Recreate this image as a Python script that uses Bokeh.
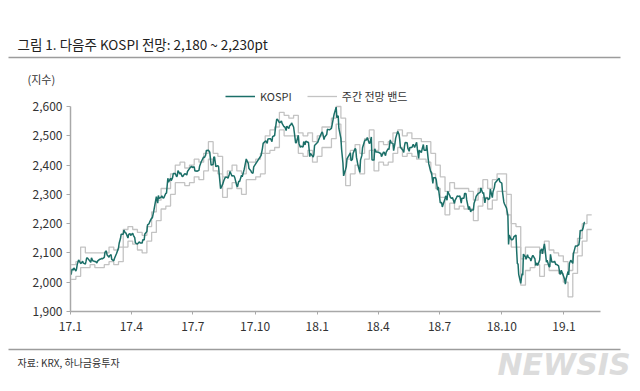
import pandas as pd
from bokeh.plotting import figure
from bokeh.models import (Range1d, FixedTicker, NumeralTickFormatter, Legend,
                          LegendItem, Label, ColumnDataSource)
from bokeh.embed import file_html
from bokeh.resources import INLINE

FONT = "Noto Sans CJK KR"

# ---------------- data ----------------
kospi_dates = [
    "2017-01-02", "2017-01-04", "2017-01-06", "2017-01-10", "2017-01-13", "2017-01-17", "2017-01-20",
    "2017-01-24", "2017-01-26", "2017-01-31", "2017-02-03", "2017-02-07", "2017-02-10", "2017-02-14",
    "2017-02-17", "2017-02-21", "2017-02-24", "2017-02-28", "2017-03-03", "2017-03-07", "2017-03-10",
    "2017-03-14", "2017-03-17", "2017-03-21", "2017-03-24", "2017-03-28", "2017-03-31", "2017-04-04",
    "2017-04-07", "2017-04-11", "2017-04-14", "2017-04-18", "2017-04-21", "2017-04-25", "2017-04-28",
    "2017-05-02", "2017-05-04", "2017-05-10", "2017-05-12", "2017-05-16", "2017-05-19", "2017-05-23",
    "2017-05-26", "2017-05-30", "2017-06-02", "2017-06-07", "2017-06-09", "2017-06-13", "2017-06-16",
    "2017-06-20", "2017-06-23", "2017-06-27", "2017-06-30", "2017-07-04", "2017-07-07", "2017-07-11",
    "2017-07-14", "2017-07-18", "2017-07-21", "2017-07-24", "2017-07-28", "2017-08-01", "2017-08-04",
    "2017-08-08", "2017-08-11", "2017-08-14", "2017-08-18", "2017-08-22", "2017-08-25", "2017-08-29",
    "2017-09-01", "2017-09-05", "2017-09-08", "2017-09-12", "2017-09-15", "2017-09-19", "2017-09-22",
    "2017-09-26", "2017-09-29", "2017-10-10", "2017-10-13", "2017-10-17", "2017-10-20", "2017-10-24",
    "2017-10-27", "2017-10-31", "2017-11-03", "2017-11-07", "2017-11-10", "2017-11-14", "2017-11-17",
    "2017-11-21", "2017-11-24", "2017-11-28", "2017-12-01", "2017-12-05", "2017-12-08", "2017-12-12",
    "2017-12-15", "2017-12-19", "2017-12-22", "2017-12-26", "2017-12-28",
    "2018-01-02", "2018-01-05", "2018-01-09", "2018-01-12", "2018-01-16", "2018-01-19", "2018-01-23",
    "2018-01-26", "2018-01-29", "2018-01-31", "2018-02-02", "2018-02-06", "2018-02-09", "2018-02-12",
    "2018-02-14", "2018-02-20", "2018-02-23", "2018-02-27", "2018-03-02", "2018-03-05", "2018-03-09",
    "2018-03-13", "2018-03-16", "2018-03-20", "2018-03-23", "2018-03-27", "2018-03-30", "2018-04-03",
    "2018-04-06", "2018-04-10", "2018-04-13", "2018-04-17", "2018-04-20", "2018-04-24", "2018-04-27",
    "2018-05-02", "2018-05-04", "2018-05-09", "2018-05-11", "2018-05-15", "2018-05-18", "2018-05-23",
    "2018-05-25", "2018-05-29", "2018-06-01", "2018-06-05", "2018-06-08", "2018-06-12", "2018-06-15",
    "2018-06-19", "2018-06-22", "2018-06-26", "2018-06-29", "2018-07-03", "2018-07-05", "2018-07-10",
    "2018-07-13", "2018-07-17", "2018-07-20", "2018-07-24", "2018-07-27", "2018-07-31", "2018-08-03",
    "2018-08-07", "2018-08-10", "2018-08-14", "2018-08-16", "2018-08-21", "2018-08-24", "2018-08-28",
    "2018-08-31", "2018-09-04", "2018-09-07", "2018-09-11", "2018-09-14", "2018-09-18", "2018-09-21",
    "2018-09-27", "2018-09-28", "2018-10-02", "2018-10-05", "2018-10-10", "2018-10-11", "2018-10-12",
    "2018-10-16", "2018-10-19", "2018-10-23", "2018-10-26", "2018-10-29", "2018-10-31", "2018-11-02",
    "2018-11-06", "2018-11-09", "2018-11-13", "2018-11-16", "2018-11-20", "2018-11-23", "2018-11-27",
    "2018-11-30", "2018-12-03", "2018-12-07", "2018-12-11", "2018-12-14", "2018-12-18", "2018-12-21",
    "2018-12-26", "2018-12-28",
    "2019-01-02", "2019-01-03", "2019-01-04", "2019-01-08", "2019-01-11", "2019-01-15", "2019-01-18",
    "2019-01-22", "2019-01-25", "2019-01-29", "2019-02-01",
]
kospi_values = [
    2026, 2045, 2049, 2046, 2076, 2065, 2065,
    2072, 2083, 2068, 2073, 2071, 2072, 2078,
    2080, 2102, 2094, 2091, 2078, 2081, 2097,
    2133, 2164, 2178, 2168, 2163, 2160, 2160,
    2134, 2133, 2134, 2145, 2165, 2196, 2205,
    2219, 2241, 2270, 2286, 2295, 2288, 2304,
    2342, 2347, 2371, 2360, 2381, 2374, 2361,
    2370, 2378, 2391, 2392, 2380, 2379, 2396,
    2414, 2425, 2450, 2451, 2400, 2427, 2395,
    2395, 2319, 2334, 2358, 2355, 2378, 2364,
    2357, 2326, 2343, 2360, 2386, 2415, 2388,
    2374, 2394, 2433, 2474, 2483, 2489, 2490,
    2497, 2523, 2557, 2545, 2542, 2531, 2533,
    2534, 2544, 2513, 2476, 2474, 2464, 2480,
    2482, 2478, 2440, 2427, 2467,
    2479, 2497, 2510, 2496, 2522, 2520, 2537,
    2574, 2598, 2566, 2525, 2454, 2363, 2386,
    2421, 2415, 2440, 2454, 2402, 2375, 2459,
    2486, 2494, 2475, 2417, 2456, 2445, 2441,
    2429, 2444, 2444, 2453, 2476, 2449, 2492,
    2505, 2461, 2443, 2477, 2458, 2460, 2471,
    2460, 2457, 2451, 2453, 2451, 2468, 2404,
    2376, 2357, 2350, 2326, 2272, 2257, 2295,
    2310, 2289, 2289, 2280, 2294, 2295, 2287,
    2303, 2282, 2259, 2240, 2270, 2293, 2304,
    2322, 2307, 2287, 2282, 2318, 2309, 2339,
    2355, 2343, 2309, 2267, 2228, 2129, 2161,
    2145, 2156, 2106, 2027, 1996, 2029, 2096,
    2078, 2086, 2072, 2092, 2057, 2057, 2107,
    2097, 2131, 2075, 2053, 2069, 2072, 2061,
    2028, 2041,
    2010, 1993, 2010, 2025, 2075, 2097, 2124,
    2127, 2177, 2183, 2204,
]

# additional in-between sessions
kospi_mid_dates = [
    "2017-01-03", "2017-01-05", "2017-01-09", "2017-01-11", "2017-01-16", "2017-01-19", "2017-01-23",
    "2017-01-25", "2017-02-01", "2017-02-06", "2017-02-09", "2017-02-13", "2017-02-16", "2017-02-20",
    "2017-02-23", "2017-02-27", "2017-03-02", "2017-03-06", "2017-03-09", "2017-03-13", "2017-03-16",
    "2017-03-20", "2017-03-23", "2017-03-27", "2017-03-30", "2017-04-03", "2017-04-06", "2017-04-10",
    "2017-04-13", "2017-04-17", "2017-04-20", "2017-04-24", "2017-04-27", "2017-05-01", "2017-05-08",
    "2017-05-11", "2017-05-15", "2017-05-18", "2017-05-22", "2017-05-25", "2017-05-29", "2017-06-01",
    "2017-06-05", "2017-06-08", "2017-06-12", "2017-06-15", "2017-06-19", "2017-06-22", "2017-06-26",
    "2017-06-29", "2017-07-03", "2017-07-06", "2017-07-10", "2017-07-13", "2017-07-17", "2017-07-20",
    "2017-07-26", "2017-07-31", "2017-08-02", "2017-08-07", "2017-08-09", "2017-08-16", "2017-08-21",
    "2017-08-24", "2017-08-28", "2017-08-31", "2017-09-04", "2017-09-07", "2017-09-11", "2017-09-14",
    "2017-09-18", "2017-09-21", "2017-09-25", "2017-09-28", "2017-10-12", "2017-10-16", "2017-10-19",
    "2017-10-23", "2017-10-26", "2017-10-30", "2017-11-02", "2017-11-06", "2017-11-09", "2017-11-13",
    "2017-11-16", "2017-11-20", "2017-11-23", "2017-11-27", "2017-11-30", "2017-12-04", "2017-12-07",
    "2017-12-11", "2017-12-14", "2017-12-18", "2017-12-21", "2017-12-27",
    "2018-01-03", "2018-01-08", "2018-01-11", "2018-01-15", "2018-01-18", "2018-01-22", "2018-01-25",
    "2018-01-30", "2018-02-01", "2018-02-05", "2018-02-08", "2018-02-13", "2018-02-19", "2018-02-22",
    "2018-02-26", "2018-02-28", "2018-03-06", "2018-03-08", "2018-03-12", "2018-03-15", "2018-03-19",
    "2018-03-22", "2018-03-26", "2018-03-29", "2018-04-02", "2018-04-05", "2018-04-09", "2018-04-12",
    "2018-04-16", "2018-04-19", "2018-04-23", "2018-04-26", "2018-04-30", "2018-05-03", "2018-05-08",
    "2018-05-10", "2018-05-14", "2018-05-17", "2018-05-21", "2018-05-24", "2018-05-28", "2018-05-31",
    "2018-06-04", "2018-06-07", "2018-06-11", "2018-06-14", "2018-06-18", "2018-06-21", "2018-06-25",
    "2018-06-28", "2018-07-02", "2018-07-04", "2018-07-09", "2018-07-12", "2018-07-16", "2018-07-19",
    "2018-07-23", "2018-07-26", "2018-07-30", "2018-08-02", "2018-08-06", "2018-08-09", "2018-08-13",
    "2018-08-17", "2018-08-20", "2018-08-23", "2018-08-27", "2018-08-30", "2018-09-03", "2018-09-06",
    "2018-09-10", "2018-09-13", "2018-09-17", "2018-09-20", "2018-10-01", "2018-10-04", "2018-10-08",
    "2018-10-15", "2018-10-18", "2018-10-22", "2018-10-24", "2018-10-25", "2018-10-30", "2018-11-01",
    "2018-11-05", "2018-11-08", "2018-11-12", "2018-11-15", "2018-11-19", "2018-11-22", "2018-11-26",
    "2018-11-29", "2018-12-04", "2018-12-06", "2018-12-10", "2018-12-12", "2018-12-17", "2018-12-20",
    "2018-12-24", "2018-12-27",
    "2019-01-07", "2019-01-09", "2019-01-14", "2019-01-16", "2019-01-21", "2019-01-23", "2019-01-24",
    "2019-01-28", "2019-01-31",
]
kospi_mid_values = [
    2043, 2041, 2038, 2061, 2064, 2072, 2062,
    2083, 2083, 2071, 2066, 2078, 2081, 2085,
    2107, 2085, 2094, 2073, 2092, 2117, 2150,
    2164, 2169, 2151, 2166, 2167, 2152, 2130,
    2138, 2134, 2144, 2173, 2199, 2219, 2292,
    2296, 2290, 2287, 2304, 2355, 2355, 2357,
    2371, 2364, 2369, 2362, 2371, 2366, 2388,
    2396, 2394, 2380, 2382, 2409, 2428, 2435,
    2444, 2402, 2428, 2398, 2368, 2348, 2358,
    2369, 2362, 2363, 2329, 2346, 2365, 2377,
    2421, 2406, 2380, 2372, 2458, 2481, 2474,
    2490, 2480, 2501, 2556, 2545, 2551, 2530,
    2518, 2525, 2538, 2530, 2476, 2502, 2461,
    2462, 2469, 2478, 2429, 2436,
    2486, 2513, 2487, 2504, 2521, 2525, 2562,
    2562, 2568, 2491, 2407, 2395, 2442, 2419,
    2456, 2427, 2417, 2433, 2482, 2486, 2474,
    2496, 2417, 2444, 2444, 2440, 2444, 2432,
    2456, 2486, 2474, 2475, 2515, 2487, 2450,
    2464, 2476, 2447, 2460, 2466, 2478, 2423,
    2443, 2470, 2451, 2423, 2376, 2337, 2357,
    2314, 2271, 2272, 2285, 2280, 2296, 2286,
    2269, 2289, 2293, 2270, 2287, 2303, 2248,
    2247, 2247, 2283, 2303, 2307, 2303, 2271,
    2288, 2286, 2289, 2323, 2338, 2274, 2253,
    2145, 2148, 2161, 2063, 2063, 2014, 2024,
    2086, 2094, 2081, 2088, 2080, 2066, 2076,
    2114, 2114, 2068, 2053, 2095, 2069, 2060,
    2056, 2028,
    2037, 2064, 2064, 2106, 2124, 2127, 2145,
    2177, 2204,
]

# weekly outlook band (week starting Monday 2017-01-02, one entry per week)
band_first_week = "2017-01-02"
band_low = [
    2010, 2020, 2050, 2050, 2060, 2050, 2050, 2060, 2070, 2060, 2070, 2120, 2140,
    2130, 2110, 2100, 2140, 2170, 2210, 2250, 2260, 2300, 2340, 2340, 2330, 2340,
    2360, 2350, 2380, 2420, 2380, 2370, 2290, 2320, 2340, 2320, 2300, 2350, 2350,
    2360, 2370, 2440, 2450, 2460, 2520, 2500, 2500, 2500, 2440, 2430, 2450, 2410,
    2430, 2460, 2460, 2490, 2540, 2480, 2330, 2370, 2400, 2370, 2420, 2450, 2380,
    2410, 2400, 2410, 2440, 2460, 2430, 2440, 2430, 2420, 2420, 2410, 2370, 2320,
    2290, 2230, 2270, 2250, 2260, 2250, 2250, 2210, 2260, 2290, 2250, 2280, 2310,
    2310, 2230, 2120, 2120, 1990, 2040, 2050, 2060, 2020, 2060, 2040, 2040, 2030,
    2000, 1950, 2030, 2090, 2140, 2180,
]
band_high = [
    2060, 2070, 2120, 2100, 2100, 2100, 2100, 2100, 2120, 2110, 2120, 2180, 2190,
    2180, 2170, 2160, 2190, 2240, 2280, 2320, 2320, 2370, 2400, 2410, 2390, 2400,
    2420, 2410, 2440, 2480, 2440, 2430, 2360, 2380, 2400, 2380, 2370, 2410, 2410,
    2420, 2440, 2500, 2520, 2530, 2580, 2570, 2560, 2570, 2510, 2500, 2510, 2480,
    2500, 2530, 2530, 2560, 2600, 2560, 2420, 2450, 2470, 2440, 2490, 2520, 2450,
    2480, 2470, 2480, 2510, 2520, 2500, 2510, 2490, 2490, 2480, 2480, 2440, 2400,
    2360, 2310, 2340, 2320, 2320, 2320, 2310, 2280, 2320, 2350, 2320, 2350, 2370,
    2370, 2300, 2200, 2190, 2080, 2120, 2120, 2120, 2100, 2140, 2110, 2100, 2090,
    2070, 2040, 2100, 2150, 2200, 2230,
]

x_start, x_end = "2017-01-01", "2019-02-24"
x_tick_dates = ["2017-01-01", "2017-04-01", "2017-07-01", "2017-10-01", "2018-01-01",
                "2018-04-01", "2018-07-01", "2018-10-01", "2019-01-01"]
x_tick_labels = ["17.1", "17.4", "17.7", "17.10", "18.1", "18.4", "18.7", "18.10", "19.1"]
y_ticks = [1900, 2000, 2100, 2200, 2300, 2400, 2500, 2600]
y_axis_min, y_axis_max = 1900, 2600

title_text = "그림 1. 다음주 KOSPI 전망: 2,180 ~ 2,230pt"
source_text = "자료: KRX, 하나금융투자"
unit_text = "(지수)"
watermark_text = "NEWSIS"

# ---------------- build ----------------
W = 640
RULE = "#9c9c9c"


def strip(height):
    f = figure(width=W, height=height, x_range=Range1d(0, W), y_range=Range1d(0, height),
               min_border=0, toolbar_location=None, output_backend="svg",
               x_axis_location=None, y_axis_location=None)
    f.grid.visible = False
    f.outline_line_color = None
    return f


# header strip (page y 0..88): title, rule, unit label
HH = 88
hd = strip(HH)
hd.segment(x0=[8], y0=[HH - 57], x1=[620], y1=[HH - 57], line_color=RULE, line_width=1.5)
hd.add_layout(Label(x=17, y=HH - 43, text=title_text, text_font=FONT, text_font_size="13.5px",
                    text_color="#222222", text_baseline="middle"))
hd.add_layout(Label(x=27, y=HH - 78, text=unit_text, text_font=FONT, text_font_size="11px",
                    text_color="#333333", text_baseline="middle"))

# main chart (page y 88..340); frame spans x 70..600, y 88..311
kdf = pd.DataFrame({"x": pd.to_datetime(kospi_dates + kospi_mid_dates),
                    "y": kospi_values + kospi_mid_values}).sort_values("x")
weeks = pd.date_range(band_first_week, periods=len(band_low), freq="7D")
bx, blo, bhi = [], [], []
for i, w in enumerate(weeks):
    e = w + pd.Timedelta(days=7)
    bx += [w, e]
    blo += [band_low[i], band_low[i]]
    bhi += [band_high[i], band_high[i]]

MAIN_TOP = HH
px_per_pt = (311 - 106) / (y_axis_max - y_axis_min)
y_top = y_axis_max + (106 - MAIN_TOP) / px_per_pt

p = figure(width=W, height=340 - MAIN_TOP, x_axis_type="datetime",
           x_range=Range1d(pd.Timestamp(x_start), pd.Timestamp(x_end)),
           y_range=Range1d(y_axis_min, y_top),
           min_border_left=70, min_border_right=40, min_border_top=0, min_border_bottom=29,
           toolbar_location=None, output_backend="svg")
p.grid.visible = False
p.outline_line_color = None

band_src = ColumnDataSource(dict(x=bx, lo=blo, hi=bhi))
r_lo = p.line("x", "lo", source=band_src, line_color="#c3c3c3", line_width=1.3)
r_hi = p.line("x", "hi", source=band_src, line_color="#c3c3c3", line_width=1.3)
k_src = ColumnDataSource(dict(x=kdf["x"], y=kdf["y"]))
r_k = p.line("x", "y", source=k_src, line_color="#1b6f68", line_width=1.5)

tick_ms = [pd.Timestamp(d).value / 1e6 for d in x_tick_dates]
p.xaxis.ticker = FixedTicker(ticks=tick_ms)
p.xaxis.major_label_overrides = {t: l for t, l in zip(tick_ms, x_tick_labels)}
p.yaxis.ticker = FixedTicker(ticks=y_ticks)
p.yaxis.formatter = NumeralTickFormatter(format="0,0")
p.yaxis.bounds = (y_axis_min, y_axis_max)

for ax in (p.xaxis[0], p.yaxis[0]):
    ax.axis_line_color = "#a8a8a8"
    ax.axis_line_width = 1.5
    ax.major_tick_line_color = "#a8a8a8"
    ax.major_tick_in = 0
    ax.minor_tick_out = 0
    ax.minor_tick_in = 0
    ax.major_label_text_font = FONT
    ax.major_label_text_font_size = "12px"
    ax.major_label_text_color = "#333333"
p.yaxis.major_tick_out = 4
p.yaxis.major_label_standoff = 4
p.xaxis.major_tick_out = 3
p.xaxis.major_label_standoff = 7

# legend centred at page y ~98 (bottom at 104)
legend = Legend(items=[LegendItem(label="KOSPI", renderers=[r_k]),
                       LegendItem(label="주간 전망 밴드", renderers=[r_hi])],
                orientation="horizontal", location=(155, 311 - 104),
                border_line_color=None, background_fill_alpha=0,
                padding=0, margin=0, spacing=15, glyph_width=30, glyph_height=12,
                label_height=12, label_standoff=5, label_text_font=FONT,
                label_text_font_size="11px", label_text_color="#333333")
p.add_layout(legend)

# footer strip (page y 340..391): rule, source, watermark
FH = 51
ft = strip(FH)
ft.segment(x0=[8], y0=[FH - 9], x1=[620], y1=[FH - 9], line_color=RULE, line_width=1.5)
ft.add_layout(Label(x=17, y=FH - 22, text=source_text, text_font=FONT, text_font_size="10px",
                    text_color="#333333", text_baseline="middle"))
ft.add_layout(Label(x=497, y=FH - 24, text=watermark_text, text_font="DejaVu Sans",
                    text_font_style="bold italic", text_font_size="30px",
                    text_color="#dcdcdc", text_baseline="middle"))

open("out.html", "w").write(file_html([hd, p, ft], INLINE))
